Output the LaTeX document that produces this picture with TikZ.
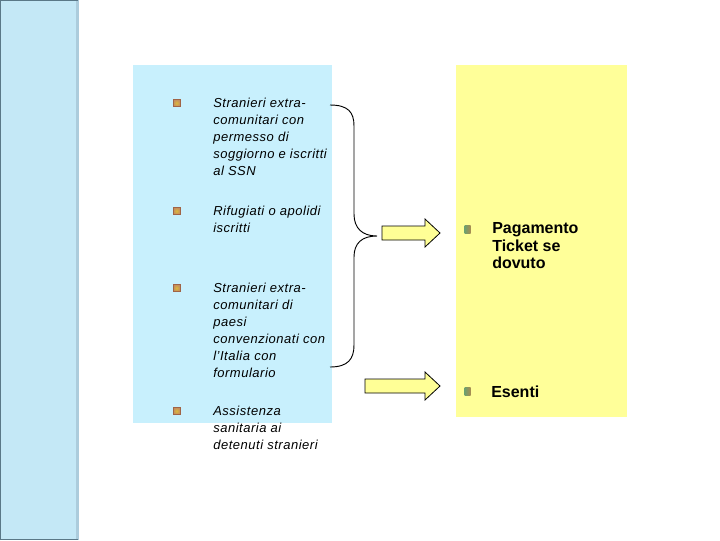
\documentclass[tikz,border=0pt]{standalone}
\usepackage{fontspec}
\setmainfont{Liberation Sans}
\definecolor{barblue}{RGB}{196,232,246}
\definecolor{barstrip}{RGB}{172,204,220}
\definecolor{barline}{RGB}{90,120,135}
\definecolor{boxblue}{RGB}{200,240,253}
\definecolor{boxyellow}{RGB}{255,255,153}
\definecolor{arrowyellow}{RGB}{255,255,150}
\definecolor{bulbrown}{RGB}{196,140,96}
\definecolor{bulbrownd}{RGB}{160,100,70}
\definecolor{bulgreen}{RGB}{110,160,110}
\definecolor{bulgold}{RGB}{170,140,80}
\begin{document}
\begin{tikzpicture}[x=0.75pt,y=-0.75pt,
  lefttext/.style={anchor=north west,inner sep=0pt,align=left,
    font=\fontsize{9.75pt}{12.75pt}\selectfont\itshape\addfontfeature{LetterSpace=4}},
  righttext/.style={anchor=north west,inner sep=0pt,align=left,
    font=\fontsize{12pt}{13pt}\selectfont\bfseries},
  lbullet/.style={draw=bulbrownd,line width=0.4pt,inner color=bulbrown!60!yellow,outer color=bulbrown,minimum size=5.25pt,inner sep=0pt},
  rbullet/.style={draw=none,left color=bulgreen,right color=bulgold,minimum width=4.5pt,minimum height=6pt,inner sep=0pt},
  arr/.style={draw=black,line width=0.6pt,fill=arrowyellow,line join=miter}]
\useasboundingbox (0,0) rectangle (720,540);
\fill[white] (0,0) rectangle (720,540);
% left bar
\fill[barblue] (0,0) rectangle (79,540);
\fill[barstrip] (76,0) rectangle (79,540);
\draw[barline,line width=0.8pt] (0.5,540) -- (0.5,0.5) -- (78,0.5);
\draw[barline,line width=0.8pt] (0.5,539.5) -- (78,539.5);
% boxes
\fill[boxblue] (133,65) rectangle (332,423);
\fill[boxyellow] (456,65) rectangle (627,417);
% left items
\node[lbullet] (b1) at (176.5,103) {};
\node[lefttext] (t1) at (213,97.5) {Stranieri extra-\\comunitari con\\permesso di\\soggiorno e iscritti\\al SSN};
\node[lbullet] (b2) at (176.5,211) {};
\node[lefttext] (t2) at (213,205.5) {Rifugiati o apolidi\\iscritti};
\node[lbullet] (b3) at (176.5,288) {};
\node[lefttext] (t3) at (213,282.5) {Stranieri extra-\\comunitari di\\paesi\\convenzionati con\\l'Italia con\\formulario};
\node[lbullet] (b4) at (176.5,411) {};
\node[lefttext] (t4) at (213,405.5) {Assistenza\\sanitaria ai\\detenuti stranieri};
% brace
\draw[black,line width=0.7pt] (330,105) .. controls (348,105) and (354,112) .. (354,126)
  -- (354,214) .. controls (354,228) and (362,236) .. (377,236)
  .. controls (362,236) and (354,243) .. (354,257)
  -- (354,345) .. controls (354,359) and (348,367) .. (330,367);
% arrows
\draw[arr] (382,226) -- (425,226) -- (425,219) -- (440,233) -- (425,247) -- (425,240) -- (382,240) -- cycle;
\draw[arr] (365,379) -- (425,379) -- (425,372) -- (440,386) -- (425,400) -- (425,393) -- (365,393) -- cycle;
% right items
\node[rbullet] (r1) at (467.5,229) {};
\node[righttext] (p1) at (492,222.5) {Pagamento\\Ticket se\\dovuto};
\node[rbullet] (r2) at (467.5,391) {};
\node[righttext] (p2) at (491,385.5) {Esenti};
\end{tikzpicture}
\end{document}
